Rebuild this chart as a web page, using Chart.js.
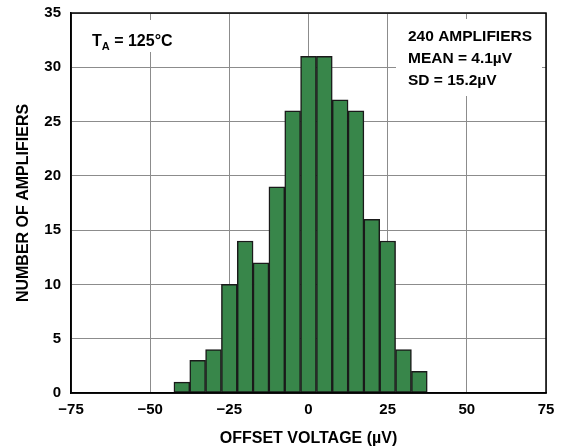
<!DOCTYPE html>
<html>
<head>
<meta charset="utf-8">
<script src="https://cdn.jsdelivr.net/npm/chart.js@4.4.1/dist/chart.umd.min.js"></script>
<style>
  html, body { margin: 0; padding: 0; background: #fff; }
  #wrap { width: 564px; height: 448px; position: relative; }
</style>
</head>
<body>
<div id="wrap"><canvas id="hist"></canvas></div>
<script>
// bin centres (uV) and counts
const binCenters = [-40, -35, -30, -25, -20, -15, -10, -5, 0, 5, 10, 15, 20, 25, 30, 35];
const counts = [1, 3, 4, 10, 14, 12, 19, 26, 31, 31, 27, 26, 16, 14, 4, 2];
const statsLines = ['240 AMPLIFIERS', 'MEAN = 4.1\u00B5V', 'SD = 15.2\u00B5V'];

const fontFam = '"Liberation Sans", Arial, sans-serif';

// draws the boxed notes on top of the grid (white background hides the grid lines)
const notesPlugin = {
	id: 'notes',
	afterDatasetsDraw(chart) {
		const c = chart.ctx;
		c.save();
		c.fillStyle = '#fff';
		c.fillRect(84, 20, 120, 32);
		c.fillRect(396, 19, 146, 77);

		c.fillStyle = '#000';
		c.textBaseline = 'alphabetic';
		c.font = 'bold 16px ' + fontFam;
		c.fillText('T', 92, 46);
		let w = c.measureText('T').width;
		c.font = 'bold 11px ' + fontFam;
		c.fillText('A', 92 + w, 50);
		let w2 = c.measureText('A').width;
		c.font = 'bold 16px ' + fontFam;
		c.fillText(' = 125\u00B0C', 92 + w + w2, 46);

		c.font = 'bold 15.5px ' + fontFam;
		statsLines.forEach((s, i) => {
			c.fillText(s, 408, 41 + i * 22);
		});
		c.restore();
	}
};

const data = {
	datasets: [{
		label: 'count',
		data: binCenters.map((x, i) => ({ x: x, y: counts[i] })),
		backgroundColor: '#38864a',
		borderColor: '#1a1a1a',
		borderWidth: 1.5,
		barPercentage: 1.0,
		categoryPercentage: 1.0,
		borderSkipped: false
	}]
};

const tickFont = { family: fontFam, size: 15, weight: 'bold' };
const titleFont = { family: fontFam, size: 16, weight: 'bold' };

const chart = new Chart(document.getElementById('hist'), {
	type: 'bar',
	data: data,
	options: {
		animation: false,
		responsive: true,
		maintainAspectRatio: false,
		layout: { padding: { top: 13, right: 18, left: 0, bottom: 0 } },
		plugins: {
			legend: { display: false },
			tooltip: { enabled: false }
		},
		scales: {
			x: {
				type: 'linear',
				offset: false,
				min: -75,
				max: 75,
				ticks: {
					stepSize: 25,
					color: '#000',
					font: tickFont,
					padding: 8,
					callback: (v) => (v < 0 ? '\u2212' + Math.abs(v) : '' + v)
				},
				grid: { color: '#8c8c8c', lineWidth: 1, drawTicks: false, offset: false },
				border: { color: '#000', width: 1.5 },
				title: {
					display: true,
					text: 'OFFSET VOLTAGE (\u00B5V)',
					color: '#000',
					font: titleFont,
					padding: { top: 0, bottom: 0 }
				},
				afterFit(scale) {
					scale.height = 55;
					scale.paddingLeft = 0;
					scale.paddingRight = 0;
				}
			},
			y: {
				min: 0,
				max: 35,
				ticks: {
					stepSize: 5,
					color: '#000',
					font: tickFont,
					padding: 10
				},
				grid: { color: '#8c8c8c', lineWidth: 1, drawTicks: false },
				border: { color: '#000', width: 1.5 },
				title: {
					display: true,
					text: 'NUMBER OF AMPLIFIERS',
					color: '#000',
					font: titleFont,
					padding: { top: 14, bottom: 0 }
				},
				afterFit(scale) {
					scale.width = 71;
					scale.paddingTop = 0;
					scale.paddingBottom = 0;
				}
			}
		}
	},
	plugins: [notesPlugin, {
		id: 'frame',
		afterDraw(chart) {
			const a = chart.chartArea;
			const c = chart.ctx;
			c.save();
			c.strokeStyle = '#000';
			c.lineWidth = 1.5;
			c.strokeRect(a.left, a.top, a.right - a.left, a.bottom - a.top);
			c.restore();
		}
	}]
});
</script>
</body>
</html>
